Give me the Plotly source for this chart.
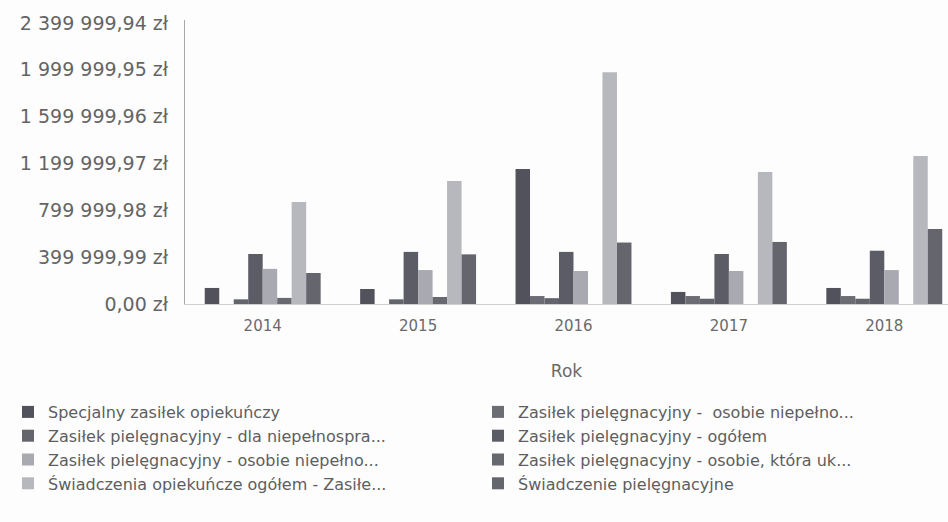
import plotly.graph_objects as go

# Years on the category axis
years = ["2014", "2015", "2016", "2017", "2018"]

# Benefit series (PLN), in drawing order within each year group
specjalny_zasilek = [137000, 128000, 1154000, 103000, 137000]
zp_osobie_niepelno_a = [0, 0, 68000, 68000, 68000]
zp_dla_niepelnospra = [40000, 40000, 50000, 45000, 45000]
zp_ogolem = [427000, 445000, 445000, 427000, 455000]
zp_osobie_niepelno_b = [300000, 290000, 282000, 282000, 290000]
zp_osobie_ktora_uk = [52000, 60000, 0, 0, 0]
swiadczenia_ogolem = [872000, 1050000, 1980000, 1128000, 1265000]
swiadczenie_pielegnacyjne = [265000, 424000, 525000, 530000, 640000]

series_names = [
    "Specjalny zasiłek opiekuńczy",
    "Zasiłek pielęgnacyjny -  osobie niepełno...",
    "Zasiłek pielęgnacyjny - dla niepełnospra...",
    "Zasiłek pielęgnacyjny - ogółem",
    "Zasiłek pielęgnacyjny - osobie niepełno...",
    "Zasiłek pielęgnacyjny - osobie, która uk...",
    "Świadczenia opiekuńcze ogółem - Zasiłe...",
    "Świadczenie pielęgnacyjne",
]
series_values = [
    specjalny_zasilek,
    zp_osobie_niepelno_a,
    zp_dla_niepelnospra,
    zp_ogolem,
    zp_osobie_niepelno_b,
    zp_osobie_ktora_uk,
    swiadczenia_ogolem,
    swiadczenie_pielegnacyjne,
]
series_colors = [
    "#52525c", "#6c6c75", "#64646d", "#5c5c66",
    "#a9a9b1", "#686870", "#b7b7be", "#65656e",
]

# Y axis ticks (złoty)
y_tickvals = [0, 399999.99, 799999.98, 1199999.97, 1599999.96, 1999999.95, 2399999.94]
y_ticktext = ["0,00 zł", "399 999,99 zł", "799 999,98 zł", "1 199 999,97 zł",
              "1 599 999,96 zł", "1 999 999,95 zł", "2 399 999,94 zł"]

FONT = "DejaVu Sans"
TEXT = "#5e5e5e"

PLOT_L, PLOT_W, PLOT_T, PLOT_H = 185, 763, 20, 284

fig = go.Figure()
for name, vals, col in zip(series_names, series_values, series_colors):
    fig.add_trace(go.Bar(x=years, y=vals, name=name, marker_color=col,
                         marker_line_width=0))

fig.update_layout(
    width=948, height=522,
    margin=dict(l=PLOT_L, r=948 - PLOT_L - PLOT_W, t=PLOT_T,
                b=522 - PLOT_T - PLOT_H, autoexpand=False),
    paper_bgcolor="#fdfdfe", plot_bgcolor="#fdfdfe",
    barmode="group", bargap=0.254, bargroupgap=0,
    font=dict(family=FONT, color=TEXT, size=16),
    showlegend=True,
    legend=dict(
        orientation="h",
        x=(8 - PLOT_L) / PLOT_W, y=-(395 - PLOT_T - PLOT_H) / PLOT_H,
        xanchor="left", yanchor="top",
        entrywidth=425, entrywidthmode="pixels",
        itemwidth=30, tracegroupgap=0,
        font=dict(family=FONT, size=16, color=TEXT),
        bgcolor="rgba(0,0,0,0)",
    ),
)
fig.update_xaxes(
    type="category", range=[-0.5, 4.41],
    showline=True, linecolor="#cfcfd4", linewidth=1,
    showgrid=False, ticks="", zeroline=False,
    ticklabelstandoff=8,
    tickfont=dict(family=FONT, size=15, color="#6a6a6a"),
    title=dict(text="Rok", font=dict(family=FONT, size=17, color="#6a6a6a"), standoff=31),
)
fig.update_yaxes(
    range=[0, 2425600],
    tickvals=y_tickvals, ticktext=y_ticktext,
    showline=True, linecolor="#a6a6ab", linewidth=1,
    showgrid=False, zeroline=False, ticks="",
    ticklabelstandoff=12,
    tickfont=dict(family=FONT, size=19, color="#646464"),
)

fig.write_html("out.html")
